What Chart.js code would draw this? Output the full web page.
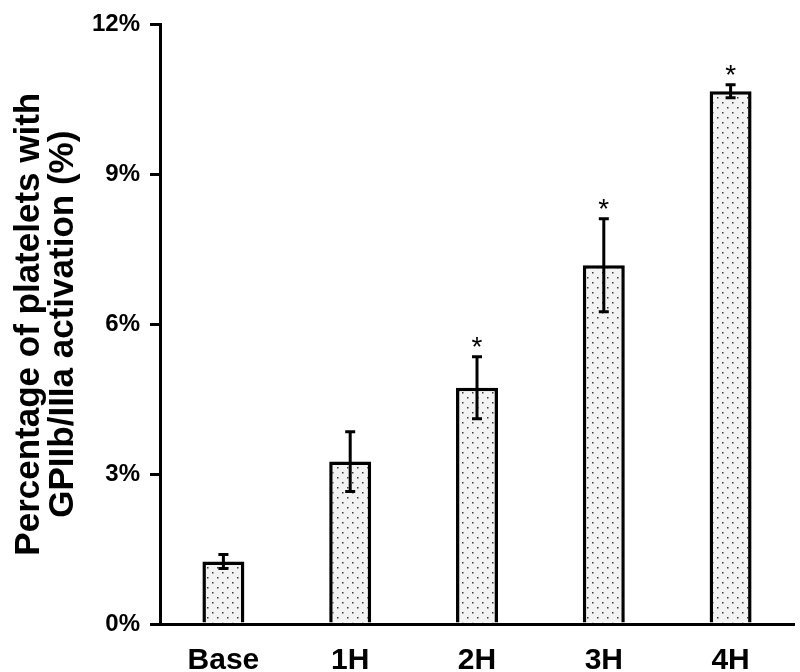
<!doctype html>
<html>

<head>
    <title>GPIIb/IIIa activation</title>
    <script src="https://cdn.jsdelivr.net/npm/chart.js@4.4.1/dist/chart.umd.min.js"></script>
    <style>
        body { margin: 0; background: #fff; }
    </style>
</head>

<body>
    <canvas id="chart-area" width="800" height="672"></canvas>
    <script>
    // data
    var categories = ["Base", "1H", "2H", "3H", "4H"];
    var means = [1.25, 3.25, 4.73, 7.18, 10.66];
    var errors = [0.14, 0.6, 0.62, 0.93, 0.13];
    var significant = [false, false, true, true, true];
    var yTicks = [0, 3, 6, 9, 12];

    // dotted fill like the original
    var makeDots = function() {
        var c = document.createElement("canvas");
        c.width = 10;
        c.height = 10;
        var g = c.getContext("2d");
        g.fillStyle = "#f3f3f3";
        g.fillRect(0, 0, 10, 10);
        g.fillStyle = "#3a3a3a";
        g.fillRect(2, 2, 1.5, 1.5);
        g.fillRect(7, 7, 1.5, 1.5);
        return g.createPattern(c, "repeat");
    };

    var errorBars = {
        id: "errorBars",
        afterDatasetsDraw: function(chart) {
            var ctx = chart.ctx;
            var y = chart.scales.y;
            var meta = chart.getDatasetMeta(0);
            ctx.save();
            ctx.strokeStyle = "#000";
            ctx.fillStyle = "#000";
            ctx.lineWidth = 3;
            meta.data.forEach(function(bar, i) {
                var x = bar.x;
                var top = y.getPixelForValue(means[i] + errors[i]);
                var bot = y.getPixelForValue(means[i] - errors[i]);
                ctx.beginPath();
                ctx.moveTo(x, top);
                ctx.lineTo(x, bot);
                ctx.moveTo(x - 5, top);
                ctx.lineTo(x + 5, top);
                ctx.moveTo(x - 5, bot);
                ctx.lineTo(x + 5, bot);
                ctx.stroke();
                if (significant[i]) {
                    ctx.font = "28px Arial, 'Liberation Sans'";
                    ctx.textAlign = "center";
                    ctx.textBaseline = "alphabetic";
                    ctx.fillText("*", x, top - 15 + 14.5);
                }
            });
            ctx.restore();
        }
    };

    var config = {
        type: "bar",
        data: {
            labels: categories,
            datasets: [{
                data: means,
                backgroundColor: makeDots(),
                borderColor: "#000",
                borderWidth: 3.5,
                barPercentage: 0.331,
                categoryPercentage: 1
            }]
        },
        options: {
            responsive: false,
            animation: false,
            layout: {
                padding: { top: 19, right: 6, left: 0, bottom: 0 }
            },
            plugins: {
                legend: { display: false },
                tooltip: { enabled: false }
            },
            scales: {
                x: {
                    grid: { display: false, drawTicks: false },
                    border: { display: true, color: "#000", width: 3 },
                    ticks: {
                        color: "#000",
                        padding: 19,
                        font: { family: "Arial, 'Liberation Sans'", size: 30, weight: "bold" }
                    },
                    afterFit: function(scale) { scale.height = 48; }
                },
                y: {
                    min: 0,
                    max: 12,
                    afterBuildTicks: function(scale) {
                        scale.ticks = yTicks.map(function(v) { return { value: v }; });
                    },
                    grid: {
                        drawOnChartArea: false,
                        color: "#000",
                        lineWidth: 3,
                        tickLength: 10
                    },
                    border: { display: true, color: "#000", width: 3 },
                    ticks: {
                        color: "#000",
                        padding: 10,
                        font: { family: "Arial, 'Liberation Sans'", size: 24, weight: "bold" },
                        callback: function(v) { return v + "%"; }
                    },
                    title: {
                        display: true,
                        text: ["Percentage of platelets with", "GPIIb/IIIa activation (%)"],
                        color: "#000",
                        padding: { top: 13, bottom: 0 },
                        font: { family: "Arial, 'Liberation Sans'", size: 35, weight: "bold", lineHeight: 0.95 }
                    },
                    afterFit: function(scale) { scale.width = 160; }
                }
            }
        },
        plugins: [errorBars]
    };

    window.onload = function() {
        var ctx = document.getElementById("chart-area").getContext("2d");
        window.myBar = new Chart(ctx, config);
    };
    </script>
</body>

</html>
